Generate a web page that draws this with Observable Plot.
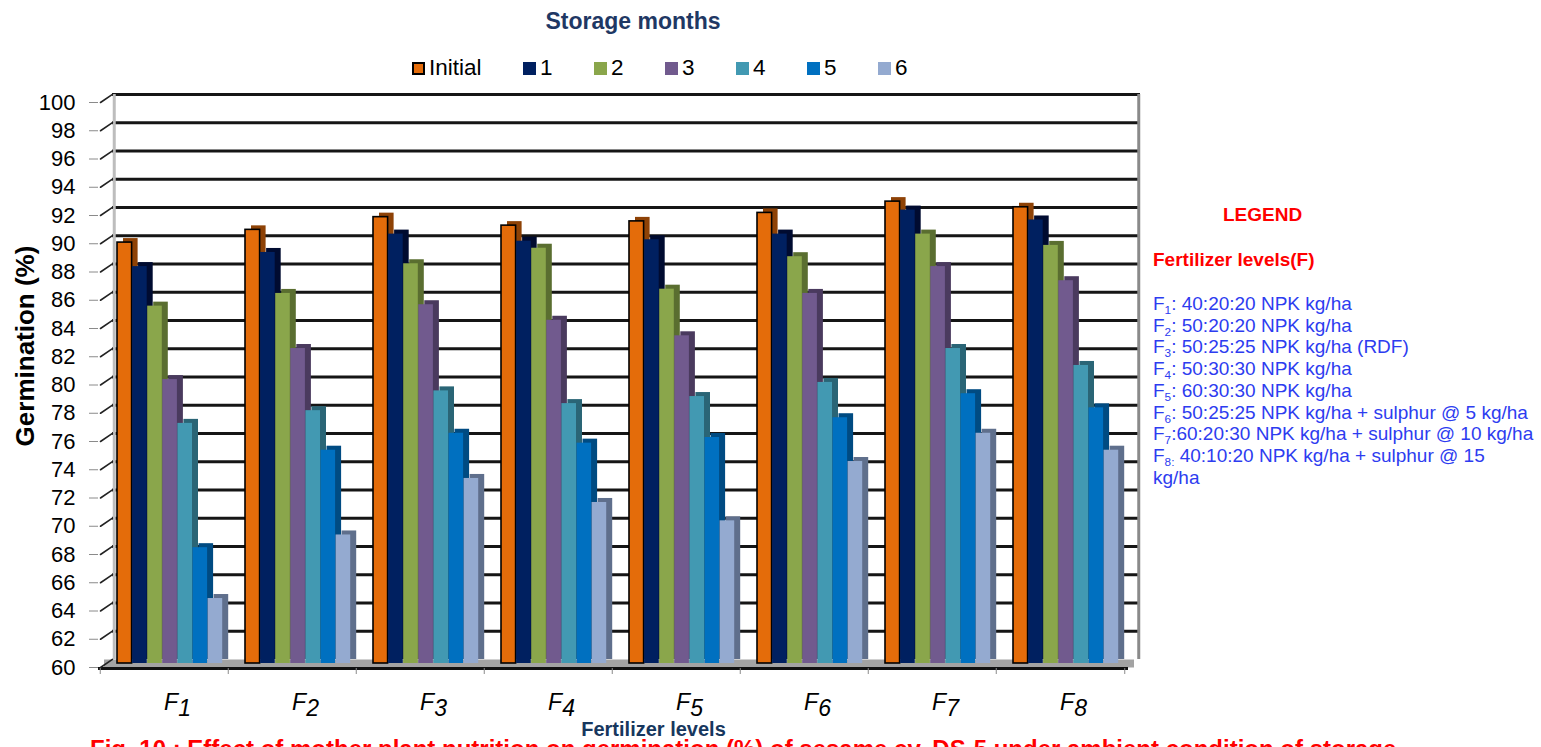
<!DOCTYPE html>
<html>
<head>
<meta charset="utf-8">
<script src="https://cdn.jsdelivr.net/npm/d3@7"></script>
<script src="https://cdn.jsdelivr.net/npm/@observablehq/plot@0.6"></script>
<style>
  body { margin: 0; background: #fff; font-family: "Liberation Sans", Arial, sans-serif; }
  #wrap { position: relative; width: 1541px; height: 747px; overflow: hidden; background: #fff; }
  #title { position: absolute; left: 633px; top: 10px; transform: translateX(-50%); font-size: 23px; line-height: 23px; font-weight: bold; color: #1F3864; white-space: nowrap; }
  #legend { position: absolute; left: 412px; top: 57px; display: flex; align-items: center; font-size: 22.5px; line-height: 22px; color: #000; }
  #legend .item { display: flex; align-items: center; margin-right: 41.5px; }
  #legend .sw { width: 13px; height: 13px; margin-right: 4px; box-sizing: border-box; }
  #chart { position: absolute; left: 0; top: 85px; }
  #side { position: absolute; left: 1153px; top: 0; color: #2D3CF0; font-size: 19px; }
  #side .head1 { position: absolute; left: 70px; top: 205px; color: #FF0000; font-weight: bold; font-size: 19px; line-height: 20px; white-space: nowrap; }
  #side .head2 { position: absolute; left: 0; top: 250px; color: #FF0000; font-weight: bold; font-size: 19px; line-height: 20px; white-space: nowrap; }
  #side .lines { position: absolute; left: 0; top: 293px; line-height: 21.7px; white-space: nowrap; }
  #side sub { font-size: 0.62em; vertical-align: -0.35em; line-height: 0; }
  #caption { position: absolute; left: 90px; top: 737px; font-size: 24px; line-height: 24px; font-weight: bold; color: #FF0000; white-space: nowrap; }
</style>
</head>
<body>
<div id="wrap">
  <div id="title">Storage months</div>
  <div id="legend"></div>
  <div id="chart"></div>
  <div id="side">
    <div class="head1">LEGEND</div>
    <div class="head2">Fertilizer levels(F)</div>
    <div class="lines">
      F<sub>1</sub>: 40:20:20 NPK kg/ha<br>
      F<sub>2</sub>: 50:20:20 NPK kg/ha<br>
      F<sub>3</sub>: 50:25:25 NPK kg/ha (RDF)<br>
      F<sub>4</sub>: 50:30:30 NPK kg/ha<br>
      F<sub>5</sub>: 60:30:30 NPK kg/ha<br>
      F<sub>6</sub>: 50:25:25 NPK kg/ha + sulphur @ 5 kg/ha<br>
      F<sub>7</sub>:60:20:30 NPK kg/ha + sulphur @ 10 kg/ha<br>
      F<sub>8:</sub> 40:10:20 NPK kg/ha + sulphur @ 15<br>
      kg/ha
    </div>
  </div>
  <div id="caption">Fig. 10 : Effect of mother plant nutrition on germination (%) of sesame cv. DS-5 under ambient condition of storage</div>
</div>
<script>
// Fertilizer levels (x groups) and storage periods (series)
const fertilizer = ["F1", "F2", "F3", "F4", "F5", "F6", "F7", "F8"];
const months = ["Initial", "1", "2", "3", "4", "5", "6"];

// Germination (%) for each storage period, F1..F8
const initial = [89.8, 90.7, 91.6, 91.0, 91.3, 91.9, 92.7, 92.3];
const month1  = [88.1, 89.1, 90.4, 89.9, 90.0, 90.4, 92.1, 91.4];
const month2  = [85.3, 86.2, 88.3, 89.4, 86.5, 88.8, 90.4, 89.6];
const month3  = [80.1, 82.3, 85.4, 84.3, 83.2, 86.2, 88.1, 87.1];
const month4  = [77.0, 77.9, 79.3, 78.4, 78.9, 79.9, 82.3, 81.1];
const month5  = [68.2, 75.1, 76.3, 75.6, 76.0, 77.4, 79.1, 78.1];
const month6  = [64.6, 69.1, 73.1, 71.4, 70.1, 74.3, 76.3, 75.1];

const yTicks = [60, 62, 64, 66, 68, 70, 72, 74, 76, 78, 80, 82, 84, 86, 88, 90, 92, 94, 96, 98, 100];

const series = [initial, month1, month2, month3, month4, month5, month6];
const colors = ["#E46C0A", "#002060", "#8AA64B", "#715A8E", "#4299B2", "#0070C0", "#94AAD0"];
const sideColors = ["#8E4206", "#000B30", "#5A6E30", "#4A3A5E", "#2A6576", "#004B82", "#5F6F8C"];

// legend row
const legend = document.getElementById("legend");
months.forEach((m, i) => {
  const item = document.createElement("div");
  item.className = "item";
  const sw = document.createElement("div");
  sw.className = "sw";
  sw.style.background = colors[i];
  if (i === 0) sw.style.border = "2px solid #000";
  const t = document.createElement("span");
  t.textContent = m;
  item.append(sw, t);
  legend.append(item);
});

// long table: one row per fertilizer level and storage period
const rows = [];
series.forEach((vals, i) => vals.forEach((v, j) => rows.push({F: fertilizer[j], month: months[i], idx: i, value: v})));

// geometry of the 3D-like columns inside each fertilizer band
const W = 1541, H = 662, mL = 98, mR = 415, mT = 13, mB = 84;
const band = (W - mL - mR) / fertilizer.length;
const lead = 17, barW = 15.1, depthX = 6, depthY = -4;

const barMarks = [];
months.forEach((m, i) => {
  const data = rows.filter(r => r.idx === i);
  const insetLeft = lead + i * barW;
  const insetRight = band - lead - (i + 1) * barW;
  barMarks.push(Plot.barY(data, {x: "F", y1: 60, y2: "value", insetLeft, insetRight, dx: depthX, dy: depthY, fill: sideColors[i]}));
  barMarks.push(Plot.barY(data, {x: "F", y1: 60, y2: "value", insetLeft, insetRight, fill: colors[i],
    stroke: i === 0 ? "#000" : "none", strokeWidth: i === 0 ? 1.6 : 0}));
});

const spike = {draw(context, l) { context.moveTo(0, 0); context.lineTo(0, -l); }};

const chart = Plot.plot({
  width: W, height: H,
  marginLeft: mL, marginRight: mR, marginTop: mT, marginBottom: mB,
  style: {fontFamily: "'Liberation Sans', Arial, sans-serif", background: "transparent"},
  x: {type: "band", domain: fertilizer, padding: 0, axis: null},
  y: {domain: [60, 100], axis: null},
  marks: [
    // back wall gridlines
    Plot.ruleY(yTicks.filter(d => d > 60), {y: d => d, dy: depthY, insetLeft: 14, insetRight: -14, stroke: "#151515", strokeWidth: 2.8}),
    // left and right wall edges
    Plot.ruleX(["F1"], {x: d => d, y1: 60, y2: 100, dx: 14 - band / 2, dy: -4, stroke: "#bdbdbd", strokeWidth: 3}),
    Plot.ruleX(["F8"], {x: d => d, y1: 60, y2: 100, dx: band / 2 + 14, dy: -4, stroke: "#8a8a8a", strokeWidth: 3}),
    // floor
    Plot.ruleY([60], {insetLeft: 6, insetRight: -8, stroke: "#a3a3a3", strokeWidth: 8}),
    Plot.ruleY([60], {dy: 5, insetRight: -2, stroke: "#111", strokeWidth: 3}),
    ...barMarks,
    // y axis with ticks and diagonal connectors to the wall
    Plot.axisY({ticks: yTicks, tickSize: 9, tickPadding: 14, dy: 4, fontSize: 22, stroke: "#8a8a8a", fill: "#000", label: null}),
    Plot.vector(yTicks, {y: d => d, frameAnchor: "left", dx: 2, dy: 4, anchor: "start", length: 14.4, rotate: 56, shape: spike, stroke: "#222", strokeWidth: 1.6}),
    // x axis: boundary ticks and group labels
    Plot.axisX({tickSize: 6, text: null, dx: -band / 2, dy: 5, stroke: "#8a8a8a", label: null}),
    Plot.axisX({ticks: ["F8"], tickSize: 6, text: null, dx: band / 2, dy: 5, stroke: "#8a8a8a", label: null}),
    Plot.axisX({tickSize: 0, tickPadding: 30, dx: 13, fontSize: 23, fontStyle: "italic", label: null}),
    // axis titles
    Plot.text(["Germination (%)"], {frameAnchor: "left", dx: -73, dy: -35, rotate: -90, textAnchor: "middle", fontSize: 26, fontWeight: "bold", fill: "#000"}),
    Plot.text(["Fertilizer levels"], {frameAnchor: "bottom", dx: 41, dy: 72, fontSize: 20, fontWeight: "bold", fill: "#17375E"})
  ]
});

// group labels: digit set slightly below the letter
d3.select(chart).selectAll('g[aria-label="x-axis tick label"] text').each(function () {
  const s = this.textContent;
  const t = d3.select(this);
  t.text(null);
  t.append("tspan").text(s.slice(0, 1));
  t.append("tspan").attr("dy", "0.28em").text(s.slice(1));
});

document.getElementById("chart").append(chart);
</script>
</body>
</html>
